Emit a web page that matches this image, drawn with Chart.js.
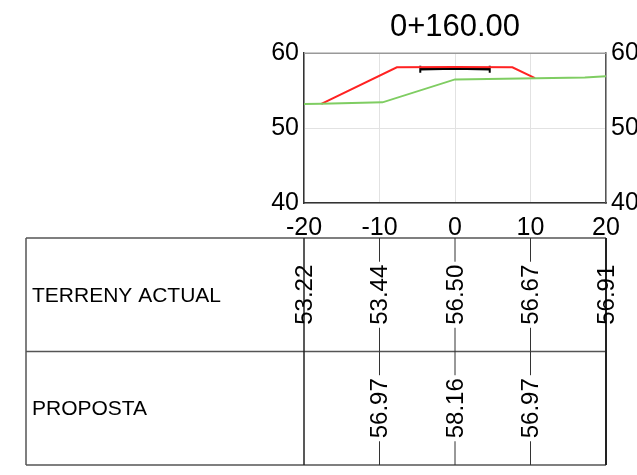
<!DOCTYPE html>
<html>
<head>
<meta charset="utf-8">
<script src="https://cdn.jsdelivr.net/npm/chart.js@4.4.0/dist/chart.umd.min.js"></script>
<style>
html,body{margin:0;padding:0;background:#fff;}
#wrap{width:637px;height:475px;}
</style>
</head>
<body>
<div id="wrap"><canvas id="c" width="637" height="475"></canvas></div>
<script>
const titleText = '0+160.00';
const xTicks = [-20, -10, 0, 10, 20];
const yTicks = [40, 50, 60];

const terrainX = [-20, -17.7, -9.6, 0, 10.8, 17.2, 20];
const terrainY = [53.22, 53.24, 53.44, 56.50, 56.67, 56.74, 56.91];

const proposalX = [-17.7, -7.7, 0, 7.6, 10.6];
const proposalY = [53.24, 58.12, 58.16, 58.12, 56.67];

const pavementX = [-4.6, 0, 4.6];
const pavementY = [57.86, 57.96, 57.86];

const tableStations = [-20, -10, 0, 10, 20];
const rowLabels = ['TERRENY ACTUAL', 'PROPOSTA'];
const terrainRow = ['53.22', '53.44', '56.50', '56.67', '56.91'];
const proposalRow = [null, '56.97', '58.16', '56.97', null];
const tableRows = [terrainRow, proposalRow];

const FONT = "'Liberation Sans', Arial, sans-serif";

function pts(xs, ys) { return xs.map((x, i) => ({x: x, y: ys[i]})); }

const frameAndTable = {
  id: 'frameAndTable',
  afterDraw(chart) {
    const ctx = chart.ctx;
    const ca = chart.chartArea;
    const xs = chart.scales.x;
    ctx.save();
    // top border of plot
    ctx.strokeStyle = '#999';
    ctx.lineWidth = 1.5;
    ctx.beginPath();
    ctx.moveTo(ca.left, ca.top);
    ctx.lineTo(ca.right, ca.top);
    ctx.stroke();

    // table
    const tLeft = 26, tTop = 238, tBottom = 465;
    const rowH = (tBottom - tTop) / tableRows.length;
    const xFirst = xs.getPixelForValue(tableStations[0]);
    const xLast = xs.getPixelForValue(tableStations[tableStations.length - 1]);
    ctx.strokeStyle = '#555';
    ctx.lineWidth = 1.5;
    ctx.beginPath();
    ctx.moveTo(tLeft, tTop); ctx.lineTo(xLast, tTop);
    ctx.moveTo(tLeft, tBottom); ctx.lineTo(xLast, tBottom);
    ctx.moveTo(tLeft, tTop); ctx.lineTo(tLeft, tBottom);
    for (let r = 1; r < tableRows.length; r++) {
      ctx.moveTo(tLeft, tTop + r * rowH); ctx.lineTo(xLast, tTop + r * rowH);
    }
    ctx.stroke();
    ctx.strokeStyle = '#222';
    ctx.lineWidth = 1.5;
    ctx.beginPath();
    ctx.moveTo(xFirst, tTop); ctx.lineTo(xFirst, tBottom);
    ctx.stroke();
    ctx.lineWidth = 2;
    ctx.beginPath();
    ctx.moveTo(xLast, tTop); ctx.lineTo(xLast, tBottom);
    ctx.stroke();

    // row labels
    ctx.fillStyle = '#000';
    ctx.font = '21px ' + FONT;
    ctx.textAlign = 'left';
    ctx.textBaseline = 'middle';
    rowLabels.forEach((lab, r) => {
      ctx.fillText(lab, 32, tTop + r * rowH + rowH / 2 + 1);
    });

    // values and station lines
    ctx.font = '24px ' + FONT;
    tableRows.forEach((row, r) => {
      const top = tTop + r * rowH, bot = top + rowH, mid = top + rowH / 2;
      tableStations.forEach((st, i) => {
        const px = xs.getPixelForValue(st);
        const txt = row[i];
        const inner = i > 0 && i < tableStations.length - 1;
        let half = 0;
        if (txt) half = ctx.measureText(txt).width / 2 + 3;
        if (inner) {
          ctx.strokeStyle = '#333';
          ctx.lineWidth = 1;
          ctx.beginPath();
          if (txt) {
            ctx.moveTo(px, top); ctx.lineTo(px, mid - half);
            ctx.moveTo(px, mid + half); ctx.lineTo(px, bot);
          } else {
            ctx.moveTo(px, top); ctx.lineTo(px, bot);
          }
          ctx.stroke();
        }
        if (txt) {
          ctx.save();
          ctx.translate(px, mid);
          ctx.rotate(-Math.PI / 2);
          ctx.textAlign = 'center';
          ctx.textBaseline = 'middle';
          ctx.fillStyle = '#000';
          ctx.fillText(txt, 0, 1);
          ctx.restore();
        }
      });
    });
    ctx.restore();
  }
};

new Chart(document.getElementById('c'), {
  type: 'line',
  data: {
    datasets: [
      {
        label: 'Terreny actual',
        data: pts(terrainX, terrainY),
        borderColor: '#7fcd62',
        borderWidth: 2,
        pointRadius: 0,
        tension: 0,
        fill: false,
        yAxisID: 'y'
      },
      {
        label: 'Proposta',
        data: pts(proposalX, proposalY),
        borderColor: '#ff2222',
        borderWidth: 2,
        pointRadius: 0,
        tension: 0,
        fill: false,
        yAxisID: 'y'
      },
      {
        label: 'Paviment',
        data: pts(pavementX, pavementY),
        borderColor: '#000',
        backgroundColor: '#000',
        borderWidth: 2.5,
        pointStyle: 'line',
        pointRotation: 90,
        pointRadius: [3.5, 0, 3.5],
        pointBorderWidth: 2,
        pointBorderColor: '#000',
        tension: 0,
        fill: false,
        yAxisID: 'y'
      }
    ]
  },
  options: {
    responsive: false,
    animation: false,
    devicePixelRatio: 1,
    layout: { padding: { top: 0, left: 0, right: 0, bottom: 237 } },
    plugins: {
      legend: { display: false },
      tooltip: { enabled: false },
      title: {
        display: true,
        fullSize: false,
        text: titleText,
        color: '#000',
        font: { family: FONT, size: 31, weight: 'normal' },
        padding: { top: 9, bottom: 7 },
        align: 'center'
      }
    },
    scales: {
      x: {
        type: 'linear',
        position: 'bottom',
        min: xTicks[0],
        max: xTicks[xTicks.length - 1],
        afterBuildTicks: (s) => { s.ticks = xTicks.map(v => ({value: v})); },
        afterFit: (s) => { s.height = 35; },
        ticks: {
          color: '#000',
          font: { family: FONT, size: 25 },
          padding: 10,
          maxRotation: 0,
          autoSkip: false
        },
        grid: { color: '#e2e2e2', lineWidth: 1, drawTicks: false },
        border: { color: '#333', width: 1.5 }
      },
      y: {
        type: 'linear',
        position: 'left',
        min: yTicks[0],
        max: yTicks[yTicks.length - 1],
        afterBuildTicks: (s) => { s.ticks = yTicks.map(v => ({value: v})); },
        afterFit: (s) => { s.width = 304; },
        ticks: {
          color: '#000',
          font: { family: FONT, size: 25 },
          padding: 5
        },
        grid: { color: '#e2e2e2', lineWidth: 1, drawTicks: false },
        border: { color: '#333', width: 1.5 }
      },
      y2: {
        type: 'linear',
        position: 'right',
        min: yTicks[0],
        max: yTicks[yTicks.length - 1],
        afterBuildTicks: (s) => { s.ticks = yTicks.map(v => ({value: v})); },
        afterFit: (s) => { s.width = 31; },
        ticks: {
          color: '#000',
          font: { family: FONT, size: 25 },
          padding: 5
        },
        grid: { display: false, drawTicks: false },
        border: { color: '#555', width: 1.5 }
      }
    }
  },
  plugins: [frameAndTable]
});
</script>
</body>
</html>
